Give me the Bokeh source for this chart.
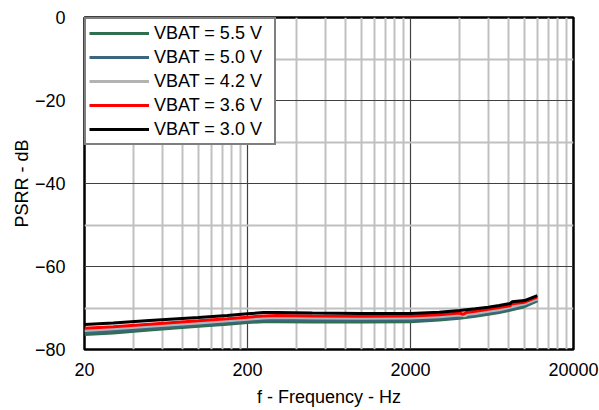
from bokeh.plotting import figure
from bokeh.models import (FixedTicker, CustomJSTickFormatter, Legend, LegendItem,
                          BasicTickFormatter, Range1d)
from bokeh.embed import file_html
from bokeh.resources import INLINE

# ---- data ----
f_55 = [20, 30, 50, 100, 150, 200, 250, 300, 500, 1000, 2000, 3000, 4000, 5000, 6000, 7000, 8000, 10000, 12000]
psrr_55 = [-76.4, -76.0, -75.3, -74.4, -73.9, -73.5, -73.3, -73.3, -73.4, -73.4, -73.3, -72.9, -72.5, -72.0, -71.5, -71.1, -70.6, -69.7, -68.3]

f_50 = [20, 30, 50, 100, 150, 200, 250, 300, 500, 1000, 2000, 3000, 4000, 5000, 6000, 7000, 8000, 10000, 12000]
psrr_50 = [-75.9, -75.5, -74.9, -74.0, -73.5, -73.1, -72.9, -72.9, -73.0, -73.0, -72.9, -72.6, -72.2, -71.7, -71.2, -70.8, -70.3, -69.4, -68.1]

f_42 = [20, 30, 50, 100, 150, 200, 250, 300, 500, 1000, 2000, 3000, 4000, 4300, 4500, 5000, 6000, 7000, 8000, 10000, 12000]
psrr_42 = [-75.4, -75.0, -74.4, -73.6, -73.1, -72.7, -72.4, -72.3, -72.4, -72.5, -72.4, -72.1, -71.7, -71.9, -71.5, -71.3, -70.8, -70.4, -69.9, -69.0, -67.8]

f_36 = [20, 30, 50, 100, 150, 200, 250, 300, 500, 1000, 2000, 3000, 4000, 4200, 4400, 5000, 6000, 7000, 8000, 8200, 8400, 10000, 12000]
psrr_36 = [-74.9, -74.5, -73.9, -73.1, -72.6, -72.2, -71.9, -71.8, -71.9, -72.0, -71.9, -71.6, -71.2, -71.5, -71.1, -70.8, -70.3, -69.9, -69.5, -69.4, -69.0, -68.6, -67.4]

f_30 = [20, 30, 50, 100, 150, 200, 250, 300, 500, 1000, 2000, 3000, 4000, 5000, 6000, 7000, 8000, 8200, 8400, 10000, 12000]
psrr_30 = [-74.0, -73.6, -73.0, -72.3, -71.8, -71.4, -71.1, -71.1, -71.2, -71.3, -71.3, -71.0, -70.6, -70.2, -69.8, -69.4, -69.0, -68.9, -68.5, -68.2, -67.0]

labels = ["VBAT = 5.5 V", "VBAT = 5.0 V", "VBAT = 4.2 V", "VBAT = 3.6 V", "VBAT = 3.0 V"]
colors = ["#2f6e4f", "#3c6680", "#b3b3b3", "#ff0000", "#000000"]

x_major = [20, 200, 2000, 20000]
x_minor = [k * 20 * 10 ** n for n in range(3) for k in range(2, 10)]
y_major = [-80, -60, -40, -20, 0]
y_minor = [-70, -50, -30, -10]

FONT = "Liberation Sans"

p = figure(width=599, height=410, x_axis_type="log",
           x_range=Range1d(20, 20000), y_range=Range1d(-80, 0),
           output_backend="svg", toolbar_location=None,
           min_border_left=84, min_border_right=26, min_border_top=17, min_border_bottom=61)
p.background_fill_color = "white"
p.border_fill_color = "white"
p.outline_line_color = "black"
p.outline_line_width = 2.5

p.xaxis.ticker = FixedTicker(ticks=x_major, minor_ticks=x_minor)
p.yaxis.ticker = FixedTicker(ticks=y_major, minor_ticks=y_minor)
p.xaxis.formatter = BasicTickFormatter(use_scientific=False)
p.yaxis.formatter = CustomJSTickFormatter(code="return tick < 0 ? '\u2212' + Math.abs(tick) : String(tick);")

for ax in (p.xaxis[0], p.yaxis[0]):
    ax.axis_line_color = None
    ax.major_tick_line_color = None
    ax.minor_tick_line_color = None
    ax.major_label_text_font = FONT
    ax.major_label_text_font_size = "18px"
    ax.major_label_text_color = "black"
    ax.axis_label_text_font = FONT
    ax.axis_label_text_font_size = "18px"
    ax.axis_label_text_font_style = "normal"
    ax.axis_label_text_color = "black"

p.xaxis.axis_label = "f - Frequency - Hz"
p.yaxis.axis_label = "PSRR - dB"
p.xaxis.major_label_standoff = 7
p.xaxis.axis_label_standoff = 8
p.yaxis.major_label_standoff = 13
p.yaxis.axis_label_standoff = 0

for g in (p.xgrid[0], p.ygrid[0]):
    g.grid_line_color = "#404040"
    g.grid_line_width = 1.2
    g.minor_grid_line_color = "#c0c0c0"
    g.minor_grid_line_width = 2

series = [(f_55, psrr_55), (f_50, psrr_50), (f_42, psrr_42), (f_36, psrr_36), (f_30, psrr_30)]
items = []
for (fx, vy), lab, col in zip(series, labels, colors):
    r = p.line(fx, vy, line_color=col, line_width=3)
    items.append(LegendItem(label=lab, renderers=[r]))

legend = Legend(items=items, location="top_left")
legend.margin = 0
legend.padding = 3
legend.spacing = 2
legend.glyph_width = 60
legend.glyph_height = 22
legend.label_height = 22
legend.label_width = 117
legend.label_standoff = 5
legend.label_text_font = FONT
legend.label_text_font_size = "18px"
legend.label_text_color = "black"
legend.border_line_color = "black"
legend.border_line_width = 2.5
legend.background_fill_color = "white"
legend.background_fill_alpha = 1.0
p.add_layout(legend, "center")

open("out.html", "w").write(file_html(p, INLINE))
